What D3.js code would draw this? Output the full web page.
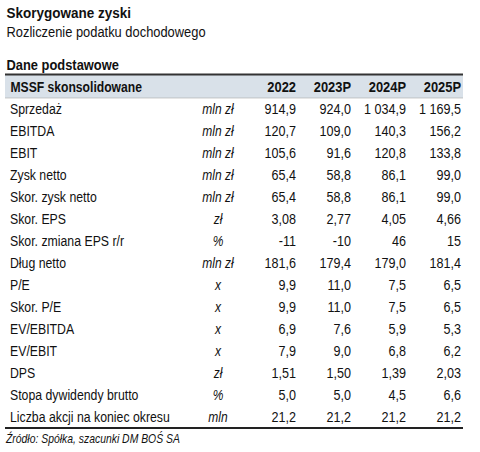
<!DOCTYPE html>
<html><head><meta charset="utf-8">
<script src="https://cdn.jsdelivr.net/npm/d3@7"></script>
<style>
body{margin:0;background:#fff;}
text{font-family:"Liberation Sans",Arial,sans-serif;fill:#111;}
</style></head>
<body><svg id="c" width="480" height="452"></svg>
<script>
const title = "Skorygowane zyski";
const subtitle = "Rozliczenie podatku dochodowego";
const sectionTitle = "Dane podstawowe";
const headerLabel = "MSSF skonsolidowane";
const years = ["2022","2023P","2024P","2025P"];
const rowLabels = ["Sprzedaż","EBITDA","EBIT","Zysk netto","Skor. zysk netto","Skor. EPS","Skor. zmiana EPS r/r","Dług netto","P/E","Skor. P/E","EV/EBITDA","EV/EBIT","DPS","Stopa dywidendy brutto","Liczba akcji na koniec okresu"];
const units = ["mln zł","mln zł","mln zł","mln zł","mln zł","zł","%","mln zł","x","x","x","x","zł","%","mln"];
const v2022 = ["914,9","120,7","105,6","65,4","65,4","3,08","-11","181,6","9,9","9,9","6,9","7,9","1,51","5,0","21,2"];
const v2023 = ["924,0","109,0","91,6","58,8","58,8","2,77","-10","179,4","11,0","11,0","7,6","9,0","1,50","5,0","21,2"];
const v2024 = ["1 034,9","140,3","120,8","86,1","86,1","4,05","46","179,0","7,5","7,5","5,9","6,8","1,39","4,5","21,2"];
const v2025 = ["1 169,5","156,2","133,8","99,0","99,0","4,66","15","181,4","6,5","6,5","5,3","6,2","2,03","6,6","21,2"];
const source = "Źródło: Spółka, szacunki DM BOŚ SA";

const svg = d3.select("#c");
const left = 5, right = 463;

function txt(x, y, s, opts){
  const o = Object.assign({size:15, sx:0.82, anchor:"start", weight:"normal", style:"normal"}, opts||{});
  return svg.append("text")
    .attr("transform", `translate(${x},${y}) scale(${o.sx},1)`)
    .attr("font-size", o.size).attr("font-weight", o.weight).attr("font-style", o.style)
    .attr("text-anchor", o.anchor).text(s);
}

txt(6.5, 18, title, {size:15, sx:0.9, weight:"bold"});
txt(6.5, 37, subtitle, {size:15, sx:0.86});
txt(6.5, 69.5, sectionTitle, {size:15, sx:0.86, weight:"bold"});

svg.append("rect").attr("x",left).attr("y",75).attr("width",right-left).attr("height",23).attr("fill","#d9e1e9");
svg.append("line").attr("x1",left).attr("x2",right).attr("y1",74.5).attr("y2",74.5).attr("stroke","#333").attr("stroke-width",2);
svg.append("line").attr("x1",left).attr("x2",right).attr("y1",98).attr("y2",98).attr("stroke","#aaa").attr("stroke-width",0.6);

const y = d3.scaleBand().domain(d3.range(rowLabels.length)).range([98,427]);
const xr = d3.scaleOrdinal().domain(years).range([296,351,406,461]);
const unitX = 218;

txt(10.5, 91.5, headerLabel, {weight:"bold", sx:0.81});
years.forEach(yy=>txt(xr(yy), 91.5, yy, {weight:"bold", sx:0.86, anchor:"end"}));

const cols = [v2022,v2023,v2024,v2025];
rowLabels.forEach((lab,i)=>{
  const by = y(i)+y.bandwidth()/2+5.5;
  txt(10, by, lab);
  txt(unitX, by, units[i], {style:"italic", sx:0.8, anchor:"middle"});
  cols.forEach((c,j)=>txt(xr(years[j]), by, c[i], {anchor:"end", sx:0.84}));
});
svg.append("line").attr("x1",left).attr("x2",right).attr("y1",428).attr("y2",428).attr("stroke","#222").attr("stroke-width",2);
txt(6, 442.5, source, {size:13, sx:0.8, style:"italic"});
</script></body></html>
